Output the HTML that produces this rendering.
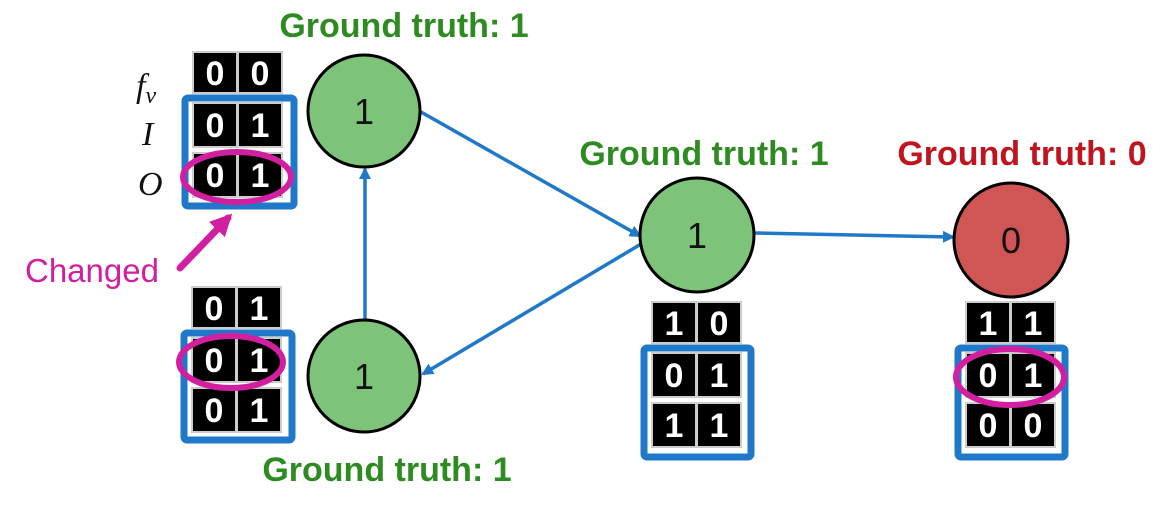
<!DOCTYPE html>
<html><head><meta charset="utf-8"><style>
html,body{margin:0;padding:0;background:#fff;}
svg{display:block;}
.gt{font-family:"Liberation Sans",sans-serif;font-weight:bold;font-size:34px;text-anchor:middle;}
.c{font-family:"Liberation Sans",sans-serif;font-weight:bold;font-size:34px;fill:#fff;text-anchor:middle;}
.n{font-family:"Liberation Sans",sans-serif;font-size:36px;text-anchor:middle;fill:#111;}
.lab{font-family:"Liberation Serif",serif;font-style:italic;font-size:34px;fill:#111;}
</style></head><body>
<svg width="1162" height="508" viewBox="0 0 1162 508" xmlns="http://www.w3.org/2000/svg">
<defs>
<marker id="ab" markerWidth="12" markerHeight="12" refX="10" refY="6" orient="auto" markerUnits="userSpaceOnUse"><path d="M0,0 L12,6 L0,12 z" fill="#1f78c8"/></marker>
<marker id="am" markerWidth="22" markerHeight="22" refX="16" refY="11" orient="auto" markerUnits="userSpaceOnUse"><path d="M0,0 L22,11 L0,22 z" fill="#d21fa0"/></marker>
</defs>
<text class="gt" x="404" y="37" fill="#2e8b22">Ground truth: 1</text>
<text class="gt" x="704" y="165" fill="#2e8b22">Ground truth: 1</text>
<text class="gt" x="1022" y="165" fill="#c0141e">Ground truth: 0</text>
<text class="gt" x="387" y="481" fill="#2e8b22">Ground truth: 1</text>

<g stroke="#1f78c8" stroke-width="3.5" fill="none">
<line x1="421" y1="112" x2="640" y2="236" marker-end="url(#ab)"/>
<line x1="641" y1="244" x2="423" y2="374" marker-end="url(#ab)"/>
<line x1="365" y1="320" x2="365" y2="169" marker-end="url(#ab)"/>
<line x1="755" y1="233" x2="953" y2="237" marker-end="url(#ab)"/>
</g>

<g stroke="#000" stroke-width="3">
<circle cx="364" cy="111" r="56" fill="#7dc37a"/>
<circle cx="364" cy="376" r="56" fill="#7dc37a"/>
<circle cx="697" cy="235" r="57" fill="#7dc37a"/>
<circle cx="1011" cy="240" r="57" fill="#d05555"/>
</g>
<text class="n" x="364" y="124">1</text>
<text class="n" x="364" y="389">1</text>
<text class="n" x="697" y="248">1</text>
<text class="n" x="1011" y="253">0</text>

<g fill="#000" stroke="#ccc" stroke-width="2">
<rect x="193" y="52" width="44" height="41"/><rect x="238" y="52" width="44" height="41"/>
<rect x="193" y="103" width="44" height="44"/><rect x="238" y="103" width="44" height="44"/>
<rect x="193" y="153" width="44" height="44"/><rect x="238" y="153" width="44" height="44"/>
<rect x="192" y="287" width="44" height="41"/><rect x="237" y="287" width="44" height="41"/>
<rect x="192" y="338" width="44" height="44"/><rect x="237" y="338" width="44" height="44"/>
<rect x="192" y="388" width="44" height="44"/><rect x="237" y="388" width="44" height="44"/>
<rect x="652" y="302" width="44" height="41"/><rect x="697" y="302" width="44" height="41"/>
<rect x="652" y="353" width="44" height="44"/><rect x="697" y="353" width="44" height="44"/>
<rect x="652" y="403" width="44" height="44"/><rect x="697" y="403" width="44" height="44"/>
<rect x="966" y="302" width="44" height="41"/><rect x="1011" y="302" width="44" height="41"/>
<rect x="966" y="353" width="44" height="44"/><rect x="1011" y="353" width="44" height="44"/>
<rect x="966" y="403" width="44" height="44"/><rect x="1011" y="403" width="44" height="44"/>
</g>
<g>
<text class="c" x="215" y="85">0</text><text class="c" x="260" y="85">0</text>
<text class="c" x="215" y="137">0</text><text class="c" x="260" y="137">1</text>
<text class="c" x="215" y="187">0</text><text class="c" x="260" y="187">1</text>

<text class="c" x="214" y="320">0</text><text class="c" x="259" y="320">1</text>
<text class="c" x="214" y="372">0</text><text class="c" x="259" y="372">1</text>
<text class="c" x="214" y="422">0</text><text class="c" x="259" y="422">1</text>

<text class="c" x="674" y="335">1</text><text class="c" x="719" y="335">0</text>
<text class="c" x="674" y="387">0</text><text class="c" x="719" y="387">1</text>
<text class="c" x="674" y="437">1</text><text class="c" x="719" y="437">1</text>

<text class="c" x="988" y="335">1</text><text class="c" x="1033" y="335">1</text>
<text class="c" x="988" y="387">0</text><text class="c" x="1033" y="387">1</text>
<text class="c" x="988" y="437">0</text><text class="c" x="1033" y="437">0</text>
</g>

<g fill="none" stroke="#1f78c8" stroke-width="7">
<rect x="185" y="98" width="109" height="108" rx="3"/>
<rect x="184" y="333" width="108" height="107" rx="3"/>
<rect x="644" y="348" width="107" height="109" rx="3"/>
<rect x="958" y="348" width="107" height="109" rx="3"/>
</g>

<g fill="none" stroke="#d21fa0" stroke-width="6">
<ellipse cx="237" cy="177" rx="54" ry="25"/>
<ellipse cx="231" cy="362" rx="52" ry="26"/>
<ellipse cx="1010" cy="377" rx="54" ry="28"/>
</g>
<line x1="180" y1="268" x2="228" y2="218" stroke="#d21fa0" stroke-width="7" stroke-linecap="round" marker-end="url(#am)"/>
<text x="25" y="282" font-family="Liberation Sans, sans-serif" font-size="33" fill="#d21fa0">Changed</text>

<text class="lab" x="136" y="97">f<tspan font-size="24" dy="6">v</tspan></text>
<text class="lab" x="142" y="145">I</text>
<text class="lab" x="138" y="195">O</text>
</svg>
</body></html>
